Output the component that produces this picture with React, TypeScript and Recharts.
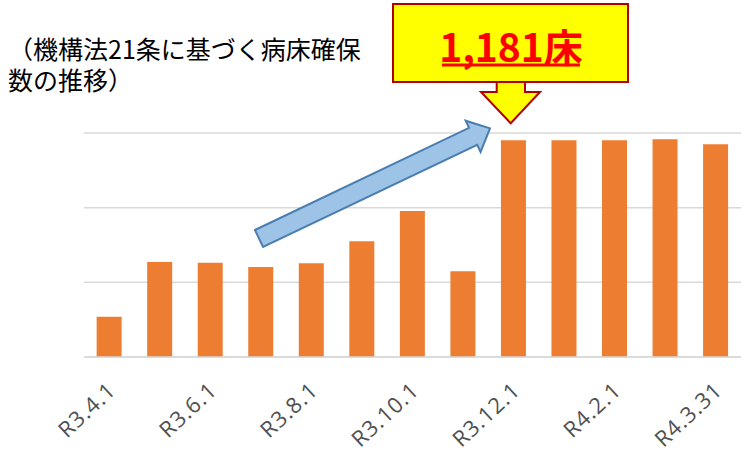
import { BarChart, Bar, XAxis, YAxis, CartesianGrid } from 'recharts'

// 機構法21条に基づく病床確保数 (R3.4.1 - R4.3.31)
const dates = ['R3.4.1', 'R3.5.1', 'R3.6.1', 'R3.7.1', 'R3.8.1', 'R3.9.1', 'R3.10.1', 'R3.11.1', 'R3.12.1', 'R4.1.1', 'R4.2.1', 'R4.3.1', 'R4.3.31']
const beds = [215, 509, 505, 482, 502, 620, 782, 459, 1161, 1161, 1161, 1167, 1140]
const yTicks = [0, 400, 800, 1200]
const titleLines = ['（機構法21条に基づく病床確保', '数の推移）']
const calloutText = '1,181床'

const data = dates.map((d, i) => ({ date: d, beds: beds[i] }))

function DateTick({ x, y, payload }: { x: number; y: number; payload: { value: string } }) {
  return (
    <g transform={`translate(${x + 8},${y + 35}) rotate(-43)`}>
      <text x={0} y={0} textAnchor="end" fill="#505050" fontSize={22} letterSpacing={1} fontFamily="'Open Sans', sans-serif">
        {payload.value}
      </text>
    </g>
  )
}

// blue "increase" arrow, from tail centre to tip
function TrendArrow() {
  const tail = [259, 238.5]
  const tip = [490, 128.3]
  const dx = tip[0] - tail[0]
  const dy = tip[1] - tail[1]
  const len = Math.hypot(dx, dy)
  const u = [dx / len, dy / len]
  const n = [-u[1], u[0]]
  const shaft = 9.4
  const head = 17.3
  const headLen = 18.7
  const base = [tip[0] - headLen * u[0], tip[1] - headLen * u[1]]
  const p = (c: number[], k: number) => `${c[0] + k * n[0]},${c[1] + k * n[1]}`
  const pts = [p(tail, -shaft), p(base, -shaft), p(base, -head), `${tip[0]},${tip[1]}`, p(base, head), p(base, shaft), p(tail, shaft)]
  return <polygon points={pts.join(' ')} fill="#9DC3E6" stroke="#4A7EB0" strokeWidth={2} strokeLinejoin="miter" />
}

function Callout() {
  return (
    <g>
      <polygon points="496.7,80 525,80 525,92 540,92 510.7,123.3 481,92 496.7,92" fill="#FFFF00" stroke="#B00000" strokeWidth={2} />
      <rect x={393} y={4} width={235} height={78} fill="#FFFF00" stroke="#B00000" strokeWidth={2} />
      <text x={511} y={62} textAnchor="middle" fill="#FF0000" fontSize={39} fontWeight="bold" fontFamily="'Noto Sans CJK JP', sans-serif">
        {calloutText}
      </text>
      <line x1={442} x2={580} y1={65} y2={65} stroke="#FF0000" strokeWidth={3} />
    </g>
  )
}

export default function App() {
  return (
    <div style={{ position: 'absolute', left: 0, top: 0, width: 753, height: 454, background: '#fff' }}>
      <BarChart width={753} height={454} data={data} margin={{ top: 133, right: 12, bottom: 37, left: 84 }} barCategoryGap="25%">
        <CartesianGrid vertical={false} stroke="#D9D9D9" strokeWidth={1.5} />
        <XAxis
          dataKey="date"
          height={60}
          interval={1}
          tickLine={false}
          tickSize={0}
          tickMargin={0}
          axisLine={{ stroke: '#D9D9D9', strokeWidth: 1.5 }}
          tick={DateTick}
        />
        <YAxis hide domain={[0, 1200]} ticks={yTicks} />
        <Bar dataKey="beds" fill="#ED7D31" isAnimationActive={false} />
      </BarChart>
      <svg width={753} height={454} style={{ position: 'absolute', left: 0, top: 0, pointerEvents: 'none' }}>
        {titleLines.map((line, i) => (
          <text key={line} x={8} y={59 + i * 31} fontSize={25} fill="#000" fontFamily="'Noto Sans CJK JP', sans-serif">
            {line}
          </text>
        ))}
        <TrendArrow />
        <Callout />
      </svg>
    </div>
  )
}
